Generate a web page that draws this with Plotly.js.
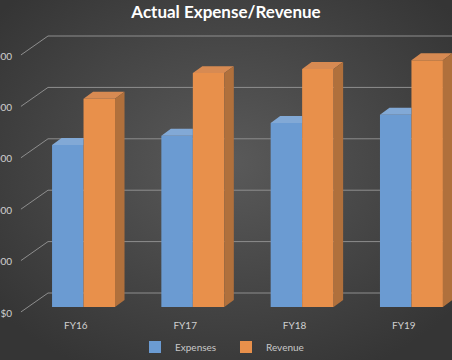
<!DOCTYPE html>
<html>
<head>
<meta charset="utf-8">
<script src="https://cdn.plot.ly/plotly-3.0.1.min.js"></script>
<style>html,body{margin:0;padding:0;background:#454545;}#chart{width:452px;height:360px;}</style>
</head>
<body>
<div id="chart"></div>
<script>
// ---- data ----
const categories = ["FY16", "FY17", "FY18", "FY19"];
const expenses = [3150, 3330, 3580, 3740];
const revenue = [4050, 4550, 4630, 4800];
const yTicks = [0, 1000, 2000, 3000, 4000, 5000];
const seriesNames = ["Expenses", "Revenue"];

// ---- style constants ----
const blue = "#6b9bd2", blueTop = "#82a9d6";
const orange = "#e8904b", orangeTop = "#d78a52", orangeSide = "#b0703c";
const barW = 0.288;          // width of each bar in category units
const dX = 0.087, dY = 136;  // pseudo-3D depth offset (x units, y units)
const backOff = 272;         // back wall offset in y units
const frontOff = -117;       // tick-label offset in y units

const xs = categories.map((c, i) => i);

function polys(fn) {
  const X = [], Y = [];
  xs.forEach((x, i) => { const p = fn(x, i); p.forEach(pt => { X.push(pt[0]); Y.push(pt[1]); }); X.push(null); Y.push(null); });
  return {X, Y};
}
const bTop = polys((x, i) => { const h = expenses[i]; return [[x - barW, h], [x, h], [x, h + dY], [x - barW + dX, h + dY], [x - barW, h]]; });
const oTop = polys((x, i) => { const h = revenue[i]; return [[x, h], [x + barW, h], [x + barW + dX, h + dY], [x + dX, h + dY], [x, h]]; });
const oSide = polys((x, i) => { const h = revenue[i]; return [[x + barW, 0], [x + barW, h], [x + barW + dX, h + dY], [x + barW + dX, dY], [x + barW, 0]]; });

function face(p, color) {
  return {type: "scatter", mode: "lines", x: p.X, y: p.Y, fill: "toself", fillcolor: color,
    line: {width: 0, color: color}, hoverinfo: "skip", showlegend: false, connectgaps: false};
}

const traces = [
  {type: "bar", name: seriesNames[0], x: xs, y: expenses, marker: {color: blue, line: {width: 0}}},
  {type: "bar", name: seriesNames[1], x: xs, y: revenue, marker: {color: orange, line: {width: 0}}},
  face(bTop, blueTop), face(oTop, orangeTop), face(oSide, orangeSide)
];

// gridlines on the back wall + diagonal connectors to the labels
const shapes = [];
yTicks.forEach(v => {
  shapes.push({type: "line", xref: "paper", yref: "y", x0: 0, x1: 1, y0: v + backOff, y1: v + backOff,
    line: {color: "#8e8e8e", width: 1}, layer: "below"});
  shapes.push({type: "line", xref: "paper", yref: "y", x0: -0.067, x1: 0, y0: v + frontOff + 20, y1: v + backOff,
    line: {color: "#8e8e8e", width: 1}, layer: "below"});
});

const bgSvg = '<svg xmlns="http://www.w3.org/2000/svg" width="452" height="360"><defs><radialGradient id="g" cx="50%" cy="45%" r="65%"><stop offset="0%" stop-color="#5a5a5a"/><stop offset="100%" stop-color="#353535"/></radialGradient></defs><rect width="452" height="360" fill="url(#g)"/></svg>';
const bgUri = "data:image/svg+xml;base64," + btoa(bgSvg);

const plotL = 48, plotT = 30, plotB = 315, W = 452, H = 360;
const pw = W - plotL, ph = plotB - plotT;

const layout = {
  width: W, height: H,
  margin: {l: plotL, r: 0, t: plotT, b: H - plotB},
  paper_bgcolor: "#454545", plot_bgcolor: "rgba(0,0,0,0)",
  font: {family: "Lato, 'Open Sans', sans-serif", color: "#d0d0d0", size: 10},
  title: {text: "<b>Actual Expense/Revenue</b>", x: 0.5, xref: "container", y: 0.967, yref: "container",
    yanchor: "middle", font: {family: "Lato, 'Open Sans', sans-serif", size: 17, color: "#ffffff"}},
  barmode: "group", bargap: 0.424, bargroupgap: 0,
  xaxis: {type: "linear", range: [-0.325, 3.371], showgrid: false, zeroline: false, showline: false,
    tickmode: "array", tickvals: xs.map(x => x - 0.07), ticktext: categories, ticks: "",
    ticklabelstandoff: 3, tickfont: {size: 10, color: "#d0d0d0"}},
  yaxis: {range: [-156, 5389], showgrid: false, zeroline: false, showline: false,
    tickmode: "array", tickvals: yTicks.map(v => v + frontOff), ticktext: yTicks.map(v => "$" + v.toLocaleString("en-US")),
    ticks: "", ticklabelstandoff: 35, tickfont: {size: 10, color: "#d0d0d0"}},
  showlegend: true,
  legend: {orientation: "h", xref: "container", yref: "container", x: 0.5, xanchor: "center", y: 0.036, yanchor: "middle",
    font: {size: 10, color: "#c8c8c8"}, bgcolor: "rgba(0,0,0,0)", itemwidth: 30, entrywidth: 46, traceorder: "normal"},
  shapes: shapes,
  images: [{source: bgUri, xref: "paper", yref: "paper", x: -plotL / pw, y: 1 + plotT / ph,
    sizex: W / pw, sizey: H / ph, sizing: "stretch", xanchor: "left", yanchor: "top", layer: "below"}]
};

Plotly.newPlot("chart", traces, layout, {displayModeBar: false, staticPlot: true});
</script>
</body>
</html>
